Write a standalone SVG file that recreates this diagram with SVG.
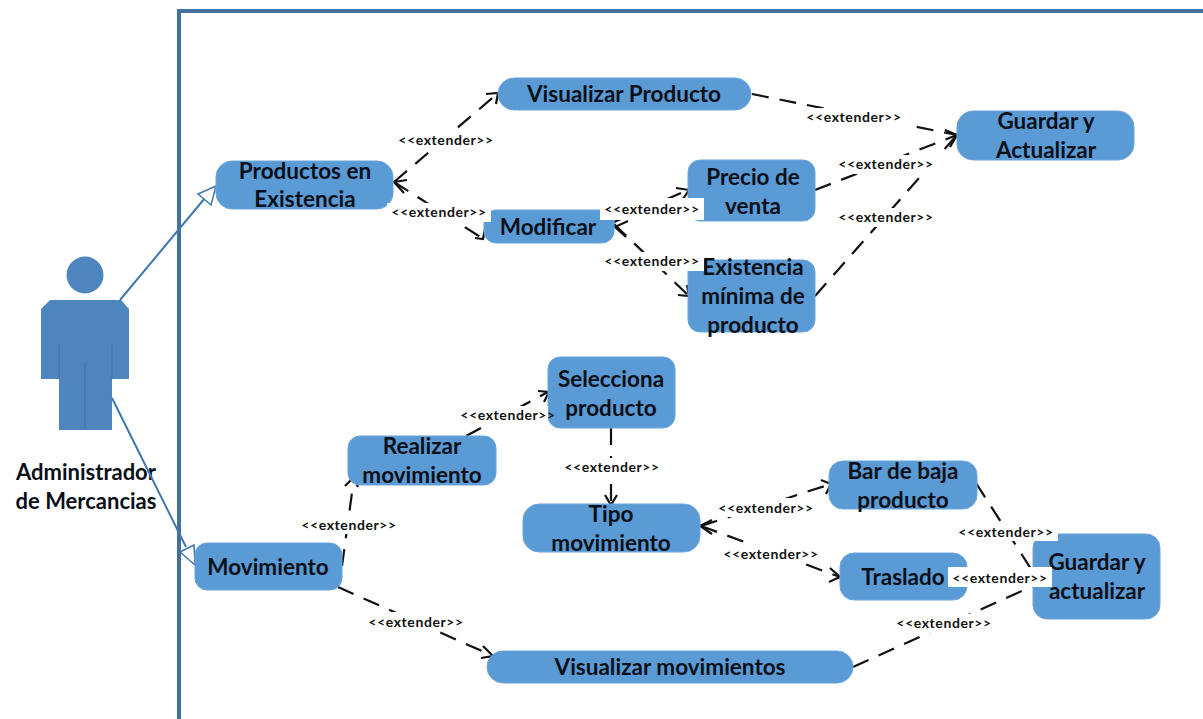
<svg xmlns="http://www.w3.org/2000/svg" width="1203" height="719" viewBox="0 0 1203 719">
<style>
.n{fill:#5b9bd5;stroke:#6aa5da;stroke-width:1}
.t{font:bold 22.5px Lato,"Liberation Sans",sans-serif;fill:#0a0f18;text-anchor:middle}
.l{font:bold 14px Lato,"Liberation Sans",sans-serif;fill:#111;text-anchor:middle;letter-spacing:.6px}
.w{fill:#fff}
.c{fill:none;stroke:#111;stroke-width:2.2;stroke-dasharray:17 11}
.h{fill:none;stroke:#111;stroke-width:2.2}
.a{fill:none;stroke:#3f78ad;stroke-width:2}
.f{fill:#fff;stroke:#3f78ad;stroke-width:1.5}
</style>
<rect width="1203" height="719" fill="#fff"/>
<path id="frame" d="M1203 11H179V719" fill="none" stroke="#41719c" stroke-width="4"/>
<g id="actor">
<circle cx="85" cy="275" r="18.5" fill="#4c86bd"/>
<path d="M50 300H121L129 309V379H112V430H59V379H41V309Z" fill="#4c86bd"/>
<path d="M59 344V379M112 344V379M85 362V430" stroke="#3f74a6" stroke-width="1" fill="none"/>
<text class="t" style="font-size:22px"><tspan x="86" y="480">Administrador</tspan><tspan x="86" y="509">de Mercancias</tspan></text>
</g>
<g id="connectors">
<path class="a" d="M120 300L205 198M112 398L186 547"/>
<path class="f" d="M216 186L198 194L211 205ZM195 565L180 552L194 545Z"/>
<path class="c" d="M394 182L497 94"/><path class="h" d="M486 94L498 93L496 104"/>
<path class="c" d="M394 182L482 238"/><path class="h" d="M475 238L483 239L485 229" transform="translate(0,0)"/>
<path class="c" d="M752 94L957 135"/>
<path class="c" d="M815 190L957 135"/>
<path class="c" d="M815 296L957 135"/>
<path class="h" d="M945 130L957 135L950 147"/>
<path class="c" d="M614 222L688 190"/><path class="h" d="M676 188L689 190L683 199"/>
<path class="c" d="M614 224L689 296"/><path class="h" d="M687 285L689 296L678 295"/>
<path class="h" d="M628 221L615 227L626 237"/>
<path class="h" d="M407 180L394 182L404 193"/>
<path class="c" d="M342 566L354 478"/><path class="h" d="M345 486L354 477L358 487"/>
<path class="c" d="M466 436L548 392"/><path class="h" d="M538 391L549 392L544 402"/>
<path class="c" d="M611 428V504"/><path class="h" d="M605 495L611 505L617 495"/>
<path class="c" d="M701 526L831 484"/><path class="h" d="M821 480L831 484L826 494"/>
<path class="c" d="M701 526L840 577"/><path class="h" d="M830 568L840 577L829 582"/>
<path class="h" d="M712 520L700 526L712 534"/>
<path class="c" d="M976 483L1033 572"/>
<path class="c" d="M948 578H1050"/><path class="h" d="M1040 568L1031 577L1040 584"/>
<path class="c" d="M853 667L1033 586"/>
<path class="c" d="M338 587L493 656"/><path class="h" d="M483 646L493 656L481 658"/>
</g>
<g id="productos"><rect class="n" x="216" y="161" width="177" height="48" rx="16"/><text class="t"><tspan x="305" y="179">Productos en</tspan><tspan x="305" y="207">Existencia</tspan></text></g>
<g id="visualizar-producto"><rect class="n" x="498" y="78" width="253" height="32" rx="16"/><text class="t" x="624" y="102">Visualizar Producto</text></g>
<g id="modificar"><rect class="n" x="484" y="210" width="130" height="33" rx="12"/><text class="t" x="548" y="235">Modificar</text></g>
<g id="precio"><rect class="n" x="688" y="160" width="127" height="61" rx="12"/><text class="t"><tspan x="753" y="185">Precio de</tspan><tspan x="753" y="214">venta</tspan></text></g>
<g id="existencia"><rect class="n" x="688" y="260" width="127" height="72" rx="12"/><text class="t"><tspan x="753" y="275">Existencia</tspan><tspan x="753" y="304">mínima de</tspan><tspan x="753" y="333">producto</tspan></text></g>
<g id="guardar1"><rect class="n" x="957" y="111" width="177" height="49" rx="16"/><text class="t"><tspan x="1046" y="129">Guardar y</tspan><tspan x="1046" y="158">Actualizar</tspan></text></g>
<g id="movimiento"><rect class="n" x="195" y="543" width="147" height="47" rx="12"/><text class="t" x="268" y="575">Movimiento</text></g>
<g id="realizar"><rect class="n" x="348" y="436" width="148" height="49" rx="12"/><text class="t"><tspan x="422" y="454">Realizar</tspan><tspan x="422" y="483">movimiento</tspan></text></g>
<g id="selecciona"><rect class="n" x="548" y="357" width="127" height="71" rx="12"/><text class="t"><tspan x="611" y="387">Selecciona</tspan><tspan x="611" y="416">producto</tspan></text></g>
<g id="tipo"><rect class="n" x="523" y="504" width="177" height="48" rx="16"/><text class="t"><tspan x="611" y="522">Tipo</tspan><tspan x="611" y="551">movimiento</tspan></text></g>
<g id="baja"><rect class="n" x="829" y="461" width="148" height="48" rx="14"/><text class="t"><tspan x="903" y="479">Bar de baja</tspan><tspan x="903" y="508">producto</tspan></text></g>
<g id="traslado"><rect class="n" x="840" y="553" width="127" height="47" rx="14"/><text class="t" x="903" y="585">Traslado</text></g>
<g id="guardar2"><rect class="n" x="1033" y="534" width="127" height="85" rx="14"/><text class="t"><tspan x="1097" y="570">Guardar y</tspan><tspan x="1097" y="599">actualizar</tspan></text></g>
<g id="visualizar-mov"><rect class="n" x="487" y="651" width="366" height="32" rx="16"/><text class="t" x="670" y="675">Visualizar movimientos</text></g>
<g id="labels">
<rect class="w" x="394" y="131" width="104" height="19"/><text class="l" x="446" y="145">&lt;&lt;extender&gt;&gt;</text>
<rect class="w" x="802" y="108" width="104" height="19"/><text class="l" x="854" y="122">&lt;&lt;extender&gt;&gt;</text>
<rect class="w" x="834" y="155" width="104" height="19"/><text class="l" x="886" y="169">&lt;&lt;extender&gt;&gt;</text>
<rect class="w" x="834" y="208" width="104" height="19"/><text class="l" x="886" y="222">&lt;&lt;extender&gt;&gt;</text>
<rect class="w" x="387" y="203" width="104" height="19"/><text class="l" x="439" y="217">&lt;&lt;extender&gt;&gt;</text>
<rect class="w" x="600" y="198" width="104" height="22"/><text class="l" x="652" y="214">&lt;&lt;extender&gt;&gt;</text>
<rect class="w" x="600" y="252" width="104" height="19"/><text class="l" x="652" y="266">&lt;&lt;extender&gt;&gt;</text>
<rect class="w" x="297" y="515" width="104" height="19"/><text class="l" x="349" y="530">&lt;&lt;extender&gt;&gt;</text>
<rect class="w" x="456" y="406" width="92" height="19"/><text class="l" x="508" y="420">&lt;&lt;extender&gt;&gt;</text>
<rect class="w" x="560" y="458" width="104" height="19"/><text class="l" x="612" y="472">&lt;&lt;extender&gt;&gt;</text>
<rect class="w" x="714" y="498" width="104" height="19"/><text class="l" x="766" y="513">&lt;&lt;extender&gt;&gt;</text>
<rect class="w" x="719" y="544" width="104" height="19"/><text class="l" x="771" y="559">&lt;&lt;extender&gt;&gt;</text>
<rect class="w" x="954" y="522" width="104" height="19"/><text class="l" x="1006" y="537">&lt;&lt;extender&gt;&gt;</text>
<rect class="w" x="948" y="567" width="104" height="20"/><text class="l" x="1000" y="583">&lt;&lt;extender&gt;&gt;</text>
<rect class="w" x="364" y="612" width="104" height="19"/><text class="l" x="416" y="627">&lt;&lt;extender&gt;&gt;</text>
<rect class="w" x="892" y="614" width="104" height="19"/><text class="l" x="944" y="628">&lt;&lt;extender&gt;&gt;</text>
</g>
</svg>
